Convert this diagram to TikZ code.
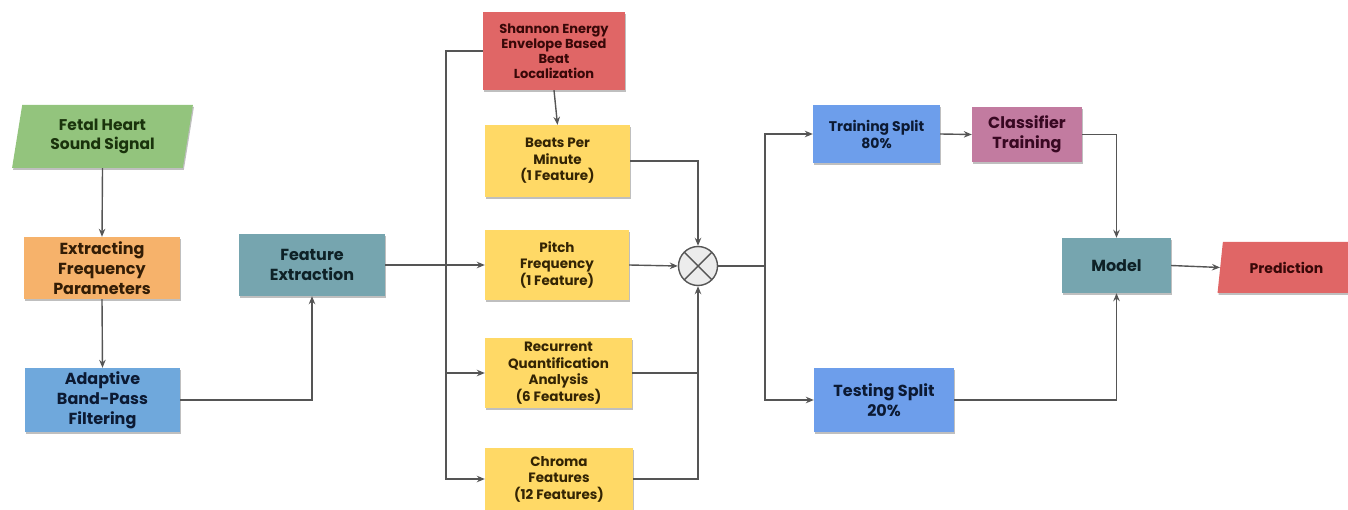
\documentclass[tikz,border=0pt]{standalone}
\usepackage{fontspec}
\setmainfont{Poppins}
\usetikzlibrary{shapes.geometric,arrows.meta,shadows}
\definecolor{cgreen}{HTML}{93C47D}
\definecolor{corange}{HTML}{F6B26B}
\definecolor{cblue}{HTML}{6FA8DC}
\definecolor{cblueb}{HTML}{6D9EEB}
\definecolor{cteal}{HTML}{76A5AF}
\definecolor{cred}{HTML}{E06666}
\definecolor{cyellow}{HTML}{FFD966}
\definecolor{cmauve}{HTML}{C27BA0}
\definecolor{tgreen}{HTML}{1A330C}
\definecolor{torange}{HTML}{331D06}
\definecolor{tblue}{HTML}{0C1A33}
\definecolor{tteal}{HTML}{0E2126}
\definecolor{tred}{HTML}{380808}
\definecolor{tyellow}{HTML}{332404}
\definecolor{tmauve}{HTML}{380822}
\definecolor{cline}{HTML}{555555}
\tikzset{
  boxbase/.style={rectangle, align=center, inner sep=2pt,
    drop shadow={shadow xshift=1pt, shadow yshift=-2pt, opacity=0.25, fill=black}},
  bigtxt/.style={font=\fontsize{16}{20}\selectfont\bfseries},
  midtxt/.style={font=\fontsize{13.5}{16.5}\selectfont\bfseries},
  smalltxt/.style={font=\fontsize{13}{15}\selectfont\bfseries},
  para/.style={trapezium, trapezium stretches=true, align=center, inner sep=2pt,
    drop shadow={shadow xshift=1pt, shadow yshift=-2pt, opacity=0.25, fill=black}},
  conn/.style={draw=cline, line width=1.4pt},
  arr/.style={conn, -{Stealth[length=8pt,width=6.5pt]}},
}
\begin{document}
\begin{tikzpicture}[x=1pt,y=-1pt]
\useasboundingbox (0,0) rectangle (1348,510);
% left column
\node[para, trapezium left angle=80, trapezium right angle=100, minimum width=181, minimum height=63,
  fill=cgreen, text=tgreen, font=\fontsize{15.5}{19}\selectfont\bfseries] (fhs) at (102.5,136.5) {Fetal Heart\\Sound Signal};
\node[boxbase, fill=corange, text=torange, bigtxt, minimum width=156, minimum height=62] (efp) at (102,268) {Extracting\\Frequency\\Parameters};
\node[boxbase, fill=cblue, text=tblue, bigtxt, minimum width=155, minimum height=64] (abp) at (102.5,400) {Adaptive\\Band-Pass\\Filtering};
\node[boxbase, fill=cteal, text=tteal, bigtxt, minimum width=146, minimum height=62] (fe) at (312,265) {Feature\\Extraction};
% feature column
\node[boxbase, fill=cred, text=tred, smalltxt, minimum width=142, minimum height=78] (se) at (554,51) {Shannon Energy\\Envelope Based\\Beat\\Localization};
\node[boxbase, fill=cyellow, text=tyellow, midtxt, minimum width=145, minimum height=72] (bpm) at (557.5,161) {Beats Per\\Minute\\(1 Feature)};
\node[boxbase, fill=cyellow, text=tyellow, midtxt, minimum width=144, minimum height=70] (pf) at (557,265) {Pitch\\Frequency\\(1 Feature)};
\node[boxbase, fill=cyellow, text=tyellow, midtxt, minimum width=147, minimum height=70] (rqa) at (558.5,373) {Recurrent\\Quantification\\Analysis\\(6 Features)};
\node[boxbase, fill=cyellow, text=tyellow, midtxt, minimum width=148, minimum height=62] (chr) at (559,479) {Chroma\\Features\\(12 Features)};
% combiner
\node[circle, draw=cline, line width=1.4pt, fill=gray!15, minimum size=39, inner sep=0pt,
  path picture={\draw[cline, line width=1.4pt] (path picture bounding box.north west) -- (path picture bounding box.south east)
    (path picture bounding box.north east) -- (path picture bounding box.south west);}] (mul) at (698,266) {};
% right part
\node[boxbase, fill=cblueb, text=tblue, font=\fontsize{14}{17}\selectfont\bfseries, minimum width=127, minimum height=58] (trs) at (876.5,134) {Training Split\\80\%};
\node[boxbase, fill=cmauve, text=tmauve, bigtxt, minimum width=110, minimum height=55] (clf) at (1027,134.5) {Classifier\\Training};
\node[boxbase, fill=cblueb, text=tblue, bigtxt, minimum width=140, minimum height=64] (tes) at (884,400) {Testing Split\\20\%};
\node[boxbase, fill=cteal, text=tteal, bigtxt, minimum width=109, minimum height=55] (mdl) at (1116.5,265.5) {Model};
\node[para, trapezium left angle=78, trapezium right angle=102, minimum width=139, minimum height=51,
  fill=cred, text=tred, font=\fontsize{14}{17}\selectfont\bfseries] (pred) at (1286.5,267.5) {Prediction};
% coordinates
\coordinate (busA) at (446,51);
\coordinate (busB) at (446,479);
\coordinate (busR) at (446,373);
\coordinate (busC) at (765,266);
\coordinate (mulR) at (698,373);
% connectors
\draw[arr] (fhs.south) -- (efp.north);
\draw[arr] (efp.south) -- (abp.north);
\draw[arr] (abp.east) -| (fe.south);
\draw[arr] (fe.east) -- (pf.west);
\draw[arr] (se.west) -- (busA) -- (busB) -- (chr.west);
\draw[arr] (busR) -- (rqa.west);
\draw[arr] (se.south) -- (bpm.north);
\draw[arr] (bpm.east) -| (mul.north);
\draw[arr] (pf.east) -- (mul.west);
\draw[arr] (chr.east) -| (mul.south);
\draw[conn] (rqa.east) -- (mulR);
\draw[conn] (mul.east) -- (busC);
\draw[arr] (busC) |- (trs.west);
\draw[arr] (busC) |- (tes.west);
\draw[arr] (trs.east) -- (clf.west);
\draw[arr] (clf.east) -| (mdl.north);
\draw[arr] (tes.east) -| (mdl.south);
\draw[arr] (mdl.east) -- (pred.west);
\end{tikzpicture}
\end{document}
